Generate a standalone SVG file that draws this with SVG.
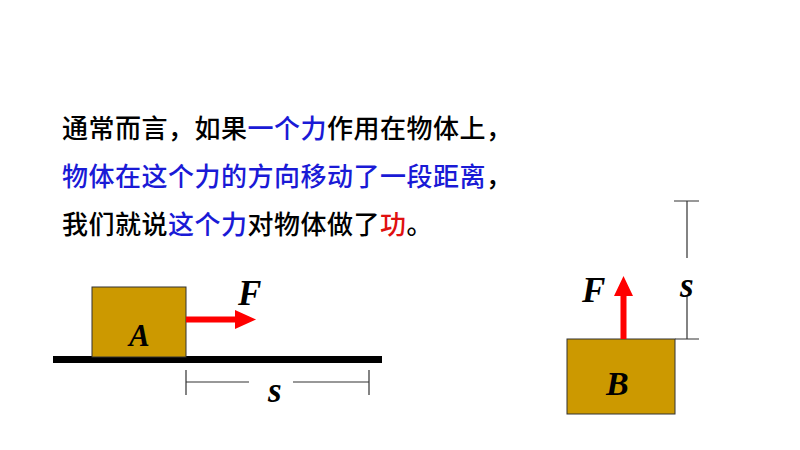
<svg xmlns="http://www.w3.org/2000/svg" width="800" height="450" viewBox="0 0 800 450">
<style>
.cn{font-family:"Noto Sans CJK SC","Noto Sans",sans-serif;font-size:26px;font-weight:500;fill:#000;letter-spacing:0.5px}
.b{fill:#1a1ad6}
.r{fill:#e01010}
.lbl{font-family:"Liberation Serif","Times New Roman",serif;font-weight:bold;font-style:italic;fill:#000}
.box{fill:#cc9900;stroke:#333;stroke-width:1}
.dim{stroke:#333;stroke-width:1.2;fill:none}
.force{fill:#ff0000}
</style>
<rect width="800" height="450" fill="#fff"/>
<g id="text">
<text class="cn" x="62" y="138">通常而言，如果<tspan class="b">一个力</tspan>作用在物体上，</text>
<text class="cn" x="62" y="186"><tspan class="b">物体在这个力的方向移动了一段距离</tspan>，</text>
<text class="cn" x="62" y="234">我们就说<tspan class="b">这个力</tspan>对物体做了<tspan class="r">功</tspan>。</text>
</g>
<g id="ground"><rect x="53" y="356" width="329" height="7" fill="#000"/></g>
<g id="boxA">
<rect class="box" x="92" y="287" width="94" height="70"/>
<text class="lbl" x="129" y="346" font-size="31">A</text>
</g>
<g id="boxB">
<rect class="box" x="567" y="339" width="108" height="75"/>
<text class="lbl" x="606" y="395" font-size="34">B</text>
</g>
<g id="connectors">
<path class="force" d="M186,316.5 H235 V310 L256,319.5 L235,329 V322.5 H186 Z"/>
<path class="force" d="M620.5,339 V296 H614 L623.5,276 L633,296 H626.5 V339 Z"/>
<path class="dim" d="M186,370 V395 M369,370 V395 M186,382 H249 M293,382 H369"/>
<path class="dim" d="M674,201 H699 M687,201 V258 M687,296 V339 M675,339 H699"/>
</g>
<g id="labels">
<text class="lbl" x="238" y="305" font-size="35">F</text>
<text class="lbl" x="582" y="302" font-size="35">F</text>
<text class="lbl" x="268" y="402" font-size="35">s</text>
<text class="lbl" x="680" y="297" font-size="35">s</text>
</g>
</svg>
